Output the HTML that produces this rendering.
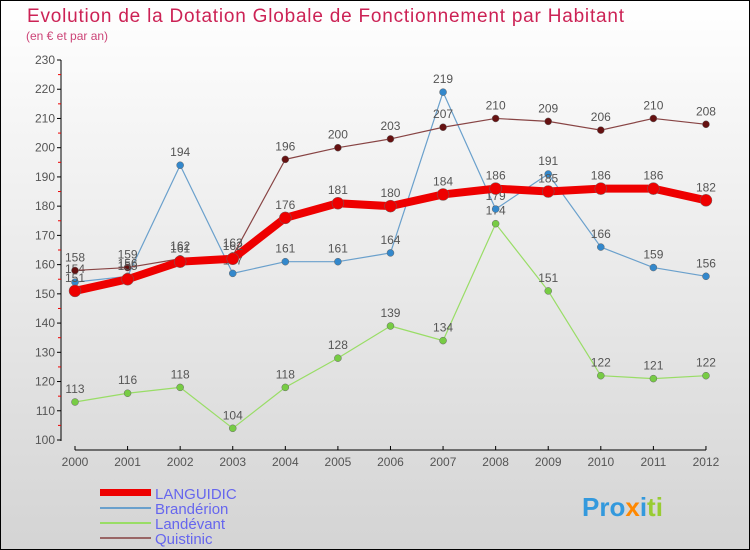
<!DOCTYPE html>
<html><head><meta charset="utf-8"><style>
body{margin:0}
svg{display:block;font-family:"Liberation Sans",sans-serif}
</style></head><body>
<svg width="750" height="550">
<defs><linearGradient id="bg" x1="0" y1="0" x2="0" y2="1"><stop offset="0" stop-color="#ffffff"/><stop offset="1" stop-color="#d4d4d4"/></linearGradient></defs>
<rect x="0.5" y="0.5" width="749" height="549" fill="url(#bg)" stroke="#000"/>
<text x="27" y="22" font-size="19" fill="#cc2255" textLength="597">Evolution de la Dotation Globale de Fonctionnement par Habitant</text>
<text x="26" y="40" font-size="12" fill="#cc4477">(en € et par an)</text>
<g id="axes"></g>
<g id="series"></g>
<g>
<rect x="100" y="489" width="51" height="7" fill="#e00"/>
<text x="155" y="499" font-size="15" fill="#6666ee">LANGUIDIC</text>
<line x1="100" y1="508" x2="151" y2="508" stroke="#6aa0cc" stroke-width="2"/>
<text x="155" y="514" font-size="15" fill="#6666ee">Brandérion</text>
<line x1="100" y1="523" x2="151" y2="523" stroke="#99dd66" stroke-width="2"/>
<text x="155" y="529" font-size="15" fill="#6666ee">Landévant</text>
<line x1="100" y1="538" x2="151" y2="538" stroke="#996666" stroke-width="2"/>
<text x="155" y="544" font-size="15" fill="#6666ee">Quistinic</text>
</g>
<text x="582" y="516" font-size="26" font-weight="bold"><tspan fill="#3399dd">Pro</tspan><tspan fill="#ff8800">x</tspan><tspan fill="#3399dd">i</tspan><tspan fill="#99cc33">ti</tspan></text>
</svg>
<script>
const years=["2000","2001","2002","2003","2004","2005","2006","2007","2008","2009","2010","2011","2012"];
const yTicks=[100,110,120,130,140,150,160,170,180,190,200,210,220,230];
const languidic=[151,155,161,162,176,181,180,184,186,185,186,186,182];
const branderion=[154,156,194,157,161,161,164,219,179,191,166,159,156];
const landevant=[113,116,118,104,118,128,139,134,174,151,122,121,122];
const quistinic=[158,159,162,163,196,200,203,207,210,209,206,210,208];
const NS="http://www.w3.org/2000/svg";
const xs=i=>75+i*52.58;
const ys=v=>440-(v-100)*(380/130);
function mk(tag,attrs,parent,txt){const e=document.createElementNS(NS,tag);for(const k in attrs)e.setAttribute(k,attrs[k]);if(txt!==undefined)e.textContent=txt;parent.appendChild(e);return e;}
const ax=document.getElementById('axes');
let l=mk('line',{x1:61,y1:60,x2:61,y2:441,stroke:'#000'},ax);


l=mk('line',{x1:75,y1:450,x2:706,y2:450,stroke:'#000'},ax);


yTicks.forEach(v=>{
 const y=ys(v);
 mk('line',{x1:57,y1:y,x2:61,y2:y,stroke:'#000'},ax);
 if(v<230){mk('line',{x1:58,y1:ys(v+5),x2:61,y2:ys(v+5),stroke:'#e00'},ax);}
 const t=mk('text',{x:55,y:y+4,'font-size':12,'text-anchor':'end',fill:'#555'},ax,v);
 
 
});
years.forEach((yr,i)=>{
 const x=xs(i);
 mk('line',{x1:x,y1:446,x2:x,y2:450,stroke:'#000'},ax);
 const t=mk('text',{x:x,y:466,'font-size':12,'text-anchor':'middle',fill:'#555'},ax,yr);
 
 
});
const sg=document.getElementById('series');
function series(name,vals,color,dot,w,r){
 const g=mk('g',{},sg);
 
 
 const p=mk('polyline',{points:vals.map((v,i)=>xs(i)+','+ys(v)).join(' '),fill:'none',stroke:color,'stroke-width':w,'stroke-linejoin':'round'},g);
 
 
 vals.forEach((v,i)=>{
  const c=mk('circle',{cx:xs(i),cy:ys(v),r:r,fill:dot,stroke:'#666','stroke-width':0.5},g);
  
  
  const t=mk('text',{x:xs(i),y:ys(v)-9,'font-size':12,'text-anchor':'middle',fill:'#555'},g,v);
  
  
 });
}
series('landevant',landevant,'#99dd66','#77cc44',1.2,3.5);
series('branderion',branderion,'#6aa0cc','#3388cc',1.2,3.5);
series('quistinic',quistinic,'#884444','#661111',1.2,3.5);
series('languidic',languidic,'#ee0000','#ee0000',8,6);
</script>
</body></html>
